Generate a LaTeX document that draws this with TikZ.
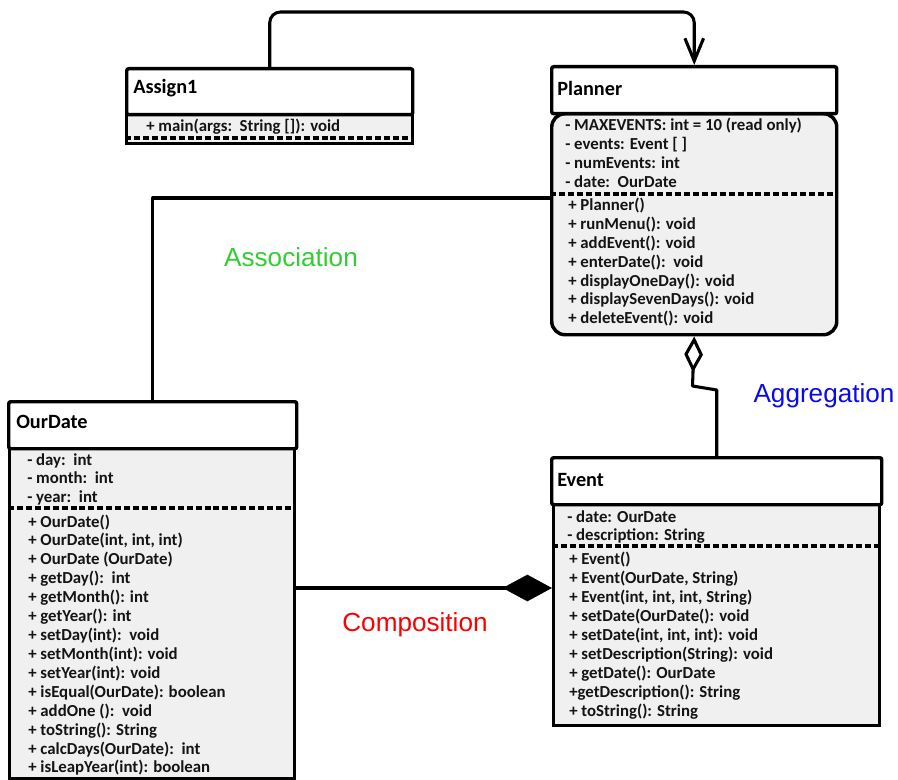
\documentclass[tikz,border=0pt]{standalone}
\usepackage{fontspec}
\setmainfont{Carlito}
\newfontfamily\lblfont{Liberation Sans}
\usetikzlibrary{arrows.meta}
\definecolor{bodygray}{RGB}{240,240,240}
\definecolor{assocgreen}{RGB}{50,205,50}
\definecolor{aggblue}{RGB}{10,10,240}
\definecolor{compred}{RGB}{250,0,0}
\tikzset{
  hdr/.style 2 args={draw, line width=2.6pt, fill=white, rounded corners=1.5pt,
     minimum width=#1*0.75pt, minimum height=#2*0.75pt, anchor=north west, inner sep=0pt},
  bodybox/.style 2 args={draw, line width=2.6pt, fill=bodygray,
     minimum width=#1*0.75pt, minimum height=#2*0.75pt, anchor=north west, inner sep=0pt},
  hdrtxt/.style={anchor=west, inner sep=0pt, font=\bfseries\fontsize{15.2}{18}\selectfont},
  mem/.style={anchor=base west, inner sep=0pt, font=\bfseries\fontsize{12.6}{14}\selectfont, text=black!92},
  sep/.style={line width=2.5pt, dash pattern=on 4.5pt off 2.2pt},
  conn/.style={line width=2.3pt, line join=round, line cap=round},
  lbl/.style={inner sep=0pt, font=\lblfont\fontsize{19.6}{22}\selectfont},
}
\begin{document}
\begin{tikzpicture}[x=0.75pt,y=-0.75pt]
\useasboundingbox (0,0) rectangle (898,780);

% ---------- Assign1 ----------
\node[bodybox={286}{30}] (a1b) at (125,112) {};
\node[hdr={286}{46}] (a1h) at (125,67) {};
\node[hdrtxt] (a1t) at (133,88) {Assign1};
\node[mem] (a1m1) at (146,132) {+ main(args:\ \ String []): void};
\draw[sep] (a1b.west |- 0,138) -- (a1b.east |- 0,138);

% ---------- Planner ----------
\node[bodybox={285}{221}, rounded corners=10pt] (plb) at (550,112) {};
\node[hdr={285}{47}] (plh) at (550,65) {};
\node[hdrtxt] (plt) at (557,88) {Planner};
\foreach \t [count=\i] in {{- MAXEVENTS: int = 10 (read only)},{- events: Event [ ]},{- numEvents: int},{- date:\ \ OurDate}}
  \node[mem] (pla\i) at (565,{131+19*(\i-1)}) {\t};
\draw[sep] (plb.west |- 0,194) -- (plb.east |- 0,194);
\foreach \t [count=\i] in {{+ Planner()},{+ runMenu(): void},{+ addEvent(): void},{+ enterDate():\ \ void},{+ displayOneDay(): void},{+ displaySevenDays(): void},{+ deleteEvent(): void}}
  \node[mem] (plm\i) at (568,{210.5+18.9*(\i-1)}) {\t};

% ---------- OurDate ----------
\node[bodybox={285}{330}] (odb) at (8,447) {};
\node[hdr={288}{47}] (odh) at (7,400) {};
\node[hdrtxt] (odt) at (16,422) {OurDate};
\foreach \t [count=\i] in {{- day:\ \ int},{- month:\ \ int},{- year:\ \ int}}
  \node[mem] (oda\i) at (27,{465+18.9*(\i-1)}) {\t};
\draw[sep] (odb.west |- 0,508) -- (odb.east |- 0,508);
\foreach \t [count=\i] in {{+ OurDate()},{+ OurDate(int, int, int)},{+ OurDate (OurDate)},{+ getDay():\ \ int},{+ getMonth(): int},{+ getYear(): int},{+ setDay(int):\ \ void},{+ setMonth(int): void},{+ setYear(int): void},{+ isEqual(OurDate): boolean},{+ addOne ():\ \ void},{+ toString(): String},{+ calcDays(OurDate):\ \ int},{+ isLeapYear(int): boolean}}
  \node[mem] (odm\i) at (28,{527+18.92*(\i-1)}) {\t};

% ---------- Event ----------
\node[bodybox={326}{221}] (evb) at (552,503) {};
\node[hdr={330}{47}] (evh) at (550,456) {};
\node[hdrtxt] (evt) at (557,480) {Event};
\foreach \t [count=\i] in {{- date: OurDate},{- description: String}}
  \node[mem] (eva\i) at (567,{522+18.5*(\i-1)}) {\t};
\draw[sep] (evb.west |- 0,546) -- (evb.east |- 0,546);
\foreach \t [count=\i] in {{+ Event()},{+ Event(OurDate, String)},{+ Event(int, int, int, String)},{+ setDate(OurDate(): void},{+ setDate(int, int, int): void},{+ setDescription(String): void},{+ getDate(): OurDate},{+getDescription(): String},{+ toString(): String}}
  \node[mem] (evm\i) at (569,{564+19*(\i-1)}) {\t};

% ---------- connectors ----------
% Assign1 -> Planner
\draw[conn, rounded corners=8pt, -{Straight Barb[length=17pt, width=14pt, line width=2.3pt]}]
  (a1h.north) -- (a1h.north |- 0,12) -- (plh.north |- 0,12) -- (plh.north);
% Association
\draw[conn] (plb.west |- 0,198) -| (odh.north);
% Aggregation
\draw[conn, {Diamond[open, length=27pt, width=14pt, line width=2.3pt]}-]
  (plb.south) -- (692.5,386) -- (evh.north |- 0,390) -- (evh.north);
% Composition
\draw[conn, {Diamond[length=37pt, width=20pt]}-] (evb.west |- 0,588) -- (odb.east |- 0,588);

% ---------- labels ----------
\node[lbl, text=assocgreen] (assoc) at (291,257) {Association};
\node[lbl, text=aggblue] (aggr) at (824,396) {Aggregation};
\node[lbl, text=compred] (comp) at (415,625) {Composition};
\end{tikzpicture}
\end{document}
